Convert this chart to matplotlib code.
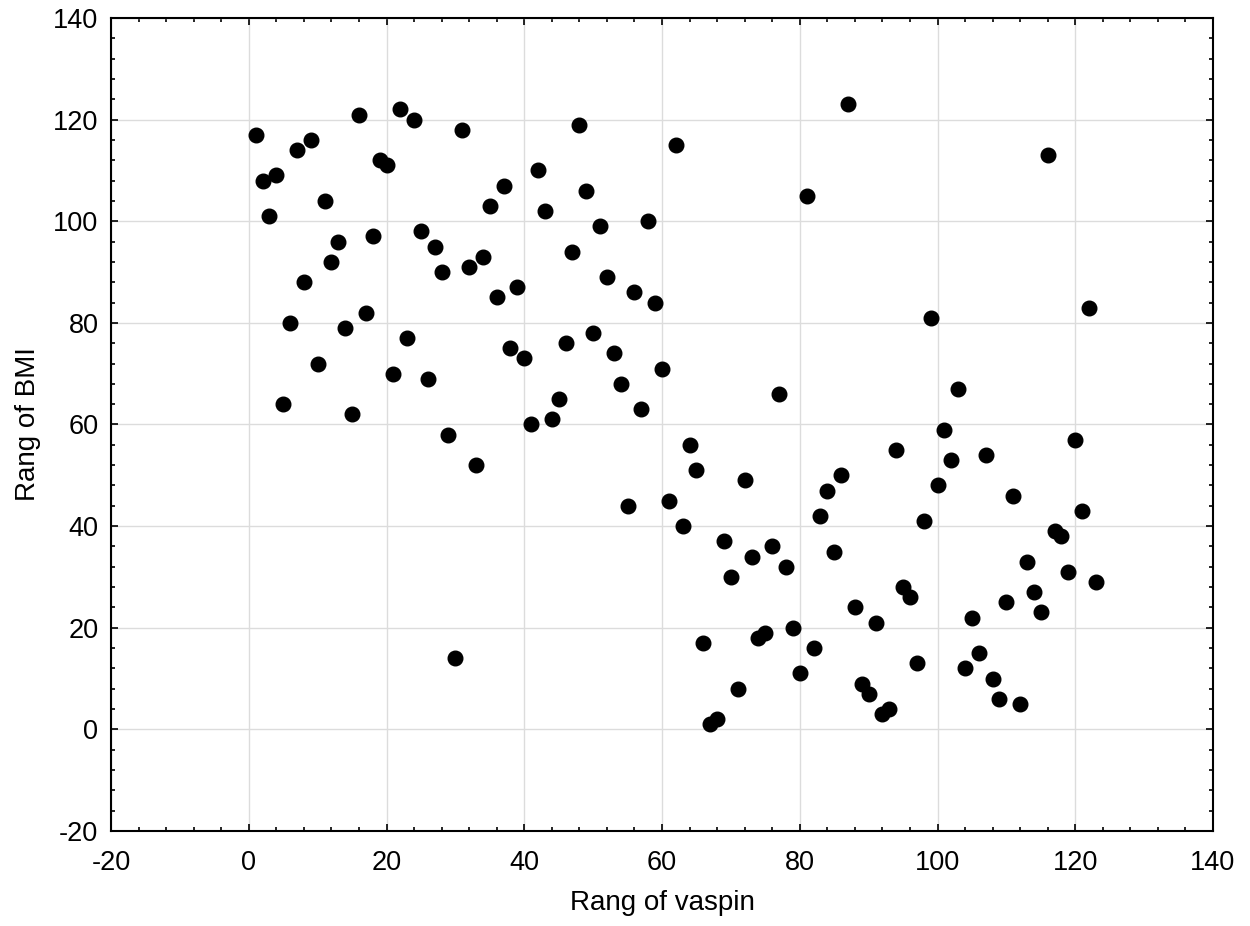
import matplotlib
matplotlib.use("Agg")
import matplotlib.pyplot as plt
from matplotlib.ticker import MultipleLocator, AutoMinorLocator

plt.rcParams['font.family'] = ['Liberation Sans', 'DejaVu Sans']
plt.rcParams['axes.unicode_minus'] = False

# rank of vaspin (x) and rank of BMI (y)
rank_vaspin = list(range(1, 124))
rank_bmi = [117, 108, 101, 109, 64, 80, 114, 88, 116, 72,
            104, 92, 96, 79, 62, 121, 82, 97, 112, 111,
            70, 122, 77, 120, 98, 69, 95, 90, 58, 14,
            118, 91, 52, 93, 103, 85, 107, 75, 87, 73,
            60, 110, 102, 61, 65, 76, 94, 119, 106, 78,
            99, 89, 74, 68, 44, 86, 63, 100, 84, 71,
            45, 115, 40, 56, 51, 17, 1, 2, 37, 30,
            8, 49, 34, 18, 19, 36, 66, 32, 20, 11,
            105, 16, 42, 47, 35, 50, 123, 24, 9, 7,
            21, 3, 4, 55, 28, 26, 13, 41, 81, 48,
            59, 53, 67, 12, 22, 15, 54, 10, 6, 25,
            46, 5, 33, 27, 23, 113, 39, 38, 31, 57,
            43, 83, 29]

fig = plt.figure(figsize=(12.5, 9.26), dpi=100)
ax = fig.add_axes([0.0888, 0.1026, 0.8816, 0.878])

ax.plot(rank_vaspin, rank_bmi, 'o', color='black', markersize=10.5, zorder=3)

ax.set_xlim(-20, 140)
ax.set_ylim(-20, 140)
ax.xaxis.set_major_locator(MultipleLocator(20))
ax.yaxis.set_major_locator(MultipleLocator(20))
ax.xaxis.set_minor_locator(AutoMinorLocator(5))
ax.yaxis.set_minor_locator(AutoMinorLocator(5))

ax.grid(True, which='major', color='#dcdcdc', linewidth=1)
ax.set_axisbelow(True)

ax.tick_params(which='both', direction='in', top=True, right=True, labelsize=19.5, width=1.2)
ax.tick_params(which='major', length=5)
ax.tick_params(which='minor', length=3)
ax.tick_params(axis='x', which='major', pad=14)
ax.tick_params(axis='y', which='major', pad=9)
for s in ax.spines.values():
    s.set_linewidth(1.5)

ax.set_xlabel('Rang of vaspin', fontsize=20, labelpad=10)
ax.set_ylabel('Rang of BMI', fontsize=20, labelpad=9)

fig.savefig('out.png', dpi=100)
